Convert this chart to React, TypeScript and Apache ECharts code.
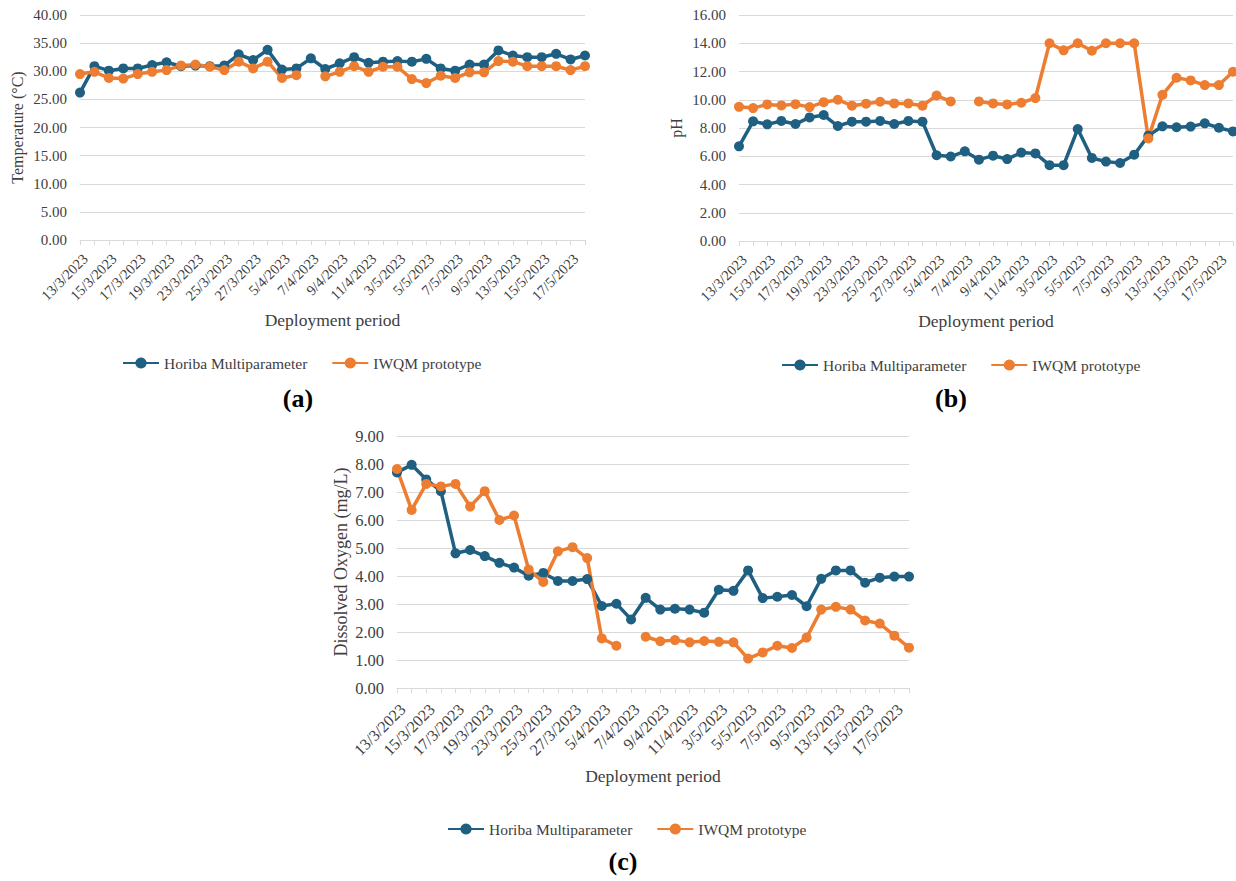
import React, { useEffect, useRef } from "react";
import * as echarts from "echarts";

const categories = ['13/3/2023','14/3/2023','15/3/2023','16/3/2023','17/3/2023','18/3/2023','19/3/2023','22/3/2023','23/3/2023','24/3/2023','25/3/2023','26/3/2023','27/3/2023','4/4/2023','5/4/2023','6/4/2023','7/4/2023','8/4/2023','9/4/2023','10/4/2023','11/4/2023','2/5/2023','3/5/2023','4/5/2023','5/5/2023','6/5/2023','7/5/2023','8/5/2023','9/5/2023','12/5/2023','13/5/2023','14/5/2023','15/5/2023','16/5/2023','17/5/2023','18/5/2023'];

const tempHoriba = [26.2,30.9,30.1,30.5,30.5,31.1,31.6,30.9,31.0,30.9,31.0,33.0,32.0,33.8,30.3,30.5,32.3,30.4,31.4,32.5,31.5,31.7,31.8,31.7,32.2,30.5,30.1,31.2,31.2,33.7,32.8,32.5,32.5,33.1,32.1,32.8];
const tempIwqm = [29.5,29.9,28.8,28.7,29.5,29.9,30.2,31.0,31.2,30.8,30.2,31.7,30.5,31.7,28.8,29.3,null,29.1,29.9,30.9,29.9,30.8,30.8,28.6,27.9,29.2,28.8,29.8,29.8,31.8,31.7,30.9,30.9,30.9,30.2,30.9];

const phHoriba = [6.70,8.47,8.26,8.50,8.28,8.75,8.92,8.14,8.45,8.45,8.50,8.28,8.50,8.45,6.07,5.98,6.35,5.76,6.04,5.80,6.26,6.20,5.37,5.37,7.93,5.88,5.62,5.52,6.11,7.46,8.12,8.05,8.10,8.33,8.02,7.76];
const phIwqm = [9.50,9.41,9.67,9.60,9.69,9.48,9.83,10.0,9.58,9.72,9.86,9.74,9.74,9.58,10.30,9.88,null,9.88,9.74,9.67,9.79,10.12,14.0,13.5,14.0,13.47,14.0,14.0,14.0,7.26,10.35,11.56,11.37,11.04,11.04,11.98];

const doHoriba = [7.70,7.97,7.45,7.03,4.81,4.93,4.71,4.47,4.30,4.01,4.11,3.82,3.82,3.89,2.93,3.01,2.45,3.22,2.80,2.83,2.80,2.69,3.51,3.47,4.20,3.21,3.26,3.32,2.92,3.90,4.20,4.20,3.76,3.94,3.98,3.98];
const doIwqm = [7.82,6.36,7.29,7.20,7.29,6.48,7.03,6.00,6.16,4.23,3.79,4.88,5.03,4.64,1.77,1.51,null,1.83,1.67,1.71,1.63,1.68,1.65,1.63,1.05,1.27,1.51,1.43,1.80,2.80,2.90,2.80,2.41,2.30,1.87,1.44];

const seriesNames = ['Horiba Multiparameter', 'IWQM prototype'];
const panelTitles = ['(a)', '(b)', '(c)'];
const yNames = ['Temperature (°C)', 'pH', 'Dissolved Oxygen (mg/L)'];
const xName = 'Deployment period';

const BLUE = '#1E5F82';
const ORANGE = '#ED7D31';
const TEXT = '#404040';
const GRID = '#D9D9D9';
const SERIF = '"Liberation Serif", "Times New Roman", serif';

export default function App() {
  const ref = useRef<HTMLDivElement>(null);
  useEffect(() => {
    if (!ref.current) return;
    const chart = echarts.init(ref.current, null, { renderer: 'svg' });

    const grids = [
      { left: 80, top: 15, width: 505, height: 225 },
      { left: 739, top: 15, width: 494, height: 226 },
      { left: 397, top: 436, width: 512, height: 252 },
    ];
    const yCfg = [
      { max: 40, interval: 5, nameGap: 55, nameSize: 16, labelSize: 15 },
      { max: 16, interval: 2, nameGap: 55, nameSize: 16, labelSize: 15 },
      { max: 9, interval: 1, nameGap: 47, nameSize: 18, labelSize: 16.5 },
    ];
    const xCfg = [
      { labelSize: 14.5, margin: 11, nameGap: 71 },
      { labelSize: 14.5, margin: 11, nameGap: 71 },
      { labelSize: 16, margin: 13, nameGap: 79 },
    ];
    const dataSets = [
      [tempHoriba, tempIwqm],
      [phHoriba, phIwqm],
      [doHoriba, doIwqm],
    ];

    const xAxis = grids.map((_, i) => ({
      type: 'category',
      gridIndex: i,
      data: categories,
      boundaryGap: false,
      name: xName,
      nameLocation: 'middle',
      nameGap: xCfg[i].nameGap,
      nameTextStyle: { fontFamily: SERIF, fontSize: 17.5, color: TEXT },
      axisLine: { lineStyle: { color: GRID, width: 1 } },
      axisTick: { show: true, interval: 0, length: 5, lineStyle: { color: GRID } },
      axisLabel: {
        interval: 1,
        rotate: 45,
        margin: xCfg[i].margin,
        align: 'right',
        verticalAlign: 'top',
        fontFamily: SERIF,
        fontSize: xCfg[i].labelSize,
        color: TEXT,
      },
      splitLine: { show: false },
    }));

    const yAxis = grids.map((_, i) => ({
      type: 'value',
      gridIndex: i,
      min: 0,
      max: yCfg[i].max,
      interval: yCfg[i].interval,
      name: yNames[i],
      nameLocation: 'middle',
      nameGap: yCfg[i].nameGap,
      nameTextStyle: { fontFamily: SERIF, fontSize: yCfg[i].nameSize, color: TEXT },
      axisLine: { show: false },
      axisTick: { show: false },
      axisLabel: {
        margin: 13,
        fontFamily: SERIF,
        fontSize: yCfg[i].labelSize,
        color: TEXT,
        formatter: (v: number) => v.toFixed(2),
      },
      splitLine: { lineStyle: { color: GRID, width: 1 } },
    }));

    const series: any[] = [];
    dataSets.forEach((pair, i) => {
      pair.forEach((data, j) => {
        series.push({
          type: 'line',
          name: seriesNames[j],
          xAxisIndex: i,
          yAxisIndex: i,
          data,
          symbol: 'circle',
          symbolSize: 10,
          showAllSymbol: true,
          connectNulls: false,
          lineStyle: { width: 3.5, color: j === 0 ? BLUE : ORANGE },
          itemStyle: { color: j === 0 ? BLUE : ORANGE },
        });
      });
    });

    const legendPos = [
      { left: 122, top: 355 },
      { left: 781, top: 357 },
      { left: 447, top: 821 },
    ];
    const legend = legendPos.map((p) => ({
      left: p.left,
      top: p.top,
      padding: 0,
      data: seriesNames,
      itemWidth: 36,
      itemHeight: 14,
      itemGap: 24,
      selectedMode: false,
      textStyle: { fontFamily: SERIF, fontSize: 15.5, color: TEXT },
    }));

    const captionPos = [
      [298, 398],
      [951, 398],
      [623, 861],
    ];
    const graphic = captionPos.map((p, i) => ({
      type: 'text',
      x: p[0],
      y: p[1],
      style: {
        text: panelTitles[i],
        fontFamily: SERIF,
        fontSize: 26,
        fontWeight: 'bold',
        fill: '#000',
        align: 'center',
        verticalAlign: 'middle',
        textAlign: 'center',
        textVerticalAlign: 'middle',
      },
    }));

    chart.setOption({
      animation: false,
      backgroundColor: '#fff',
      grid: grids.map((g) => ({ ...g, containLabel: false })),
      xAxis,
      yAxis,
      legend,
      series,
      graphic,
    });
    return () => chart.dispose();
  }, []);
  return (
    <div
      ref={ref}
      style={{ position: 'absolute', left: 0, top: 0, width: 1236, height: 881 }}
    />
  );
}
